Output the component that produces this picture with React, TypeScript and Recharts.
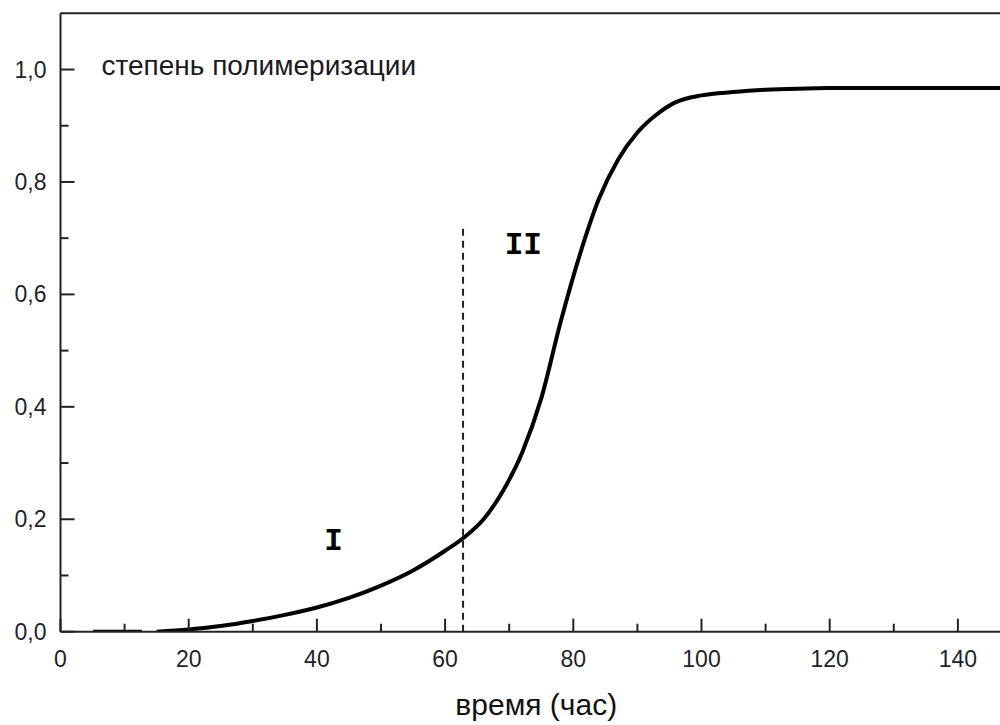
import { LineChart, Line, XAxis, YAxis, ReferenceLine, ReferenceDot } from 'recharts';

// время (час)
const hours = [15, 20, 25, 30, 35, 40, 45, 50, 55, 60, 63, 66, 69, 72, 75, 78, 81, 84, 87, 90, 93, 96, 100, 105, 110, 115, 120, 150];
// степень полимеризации
const degree = [0, 0.004, 0.01, 0.019, 0.03, 0.043, 0.06, 0.082, 0.109, 0.144, 0.168, 0.2, 0.25, 0.318, 0.415, 0.55, 0.67, 0.77, 0.84, 0.888, 0.92, 0.942, 0.954, 0.96, 0.964, 0.966, 0.967, 0.967];

// short flat piece before the curve
const startHours = [5.1, 12.7];
const startDegree = [0, 0];

const xTicks = [0, 10, 20, 30, 40, 50, 60, 70, 80, 90, 100, 110, 120, 130, 140];
const xLabelled = [0, 20, 40, 60, 80, 100, 120, 140];
const yTicks = [0, 0.1, 0.2, 0.3, 0.4, 0.5, 0.6, 0.7, 0.8, 0.9, 1.0];
const yLabelled = [0, 0.2, 0.4, 0.6, 0.8, 1.0];

const boundaryHour = 62.8;
const boundaryTop = 0.721;

const curve = hours.map((t, i) => ({ t, v: degree[i] }));
const startPiece = startHours.map((t, i) => ({ t, v: startDegree[i] }));

const axisColor = '#222';
const textColor = '#1f1f2a';
const font = '"Liberation Sans", Arial, sans-serif';

const XTick = (props: any) => {
  const { x, y, payload } = props;
  const major = xLabelled.includes(payload.value);
  return (
    <g>
      <line x1={x} y1={y} x2={x} y2={y - (major ? 13 : 8)} stroke={axisColor} strokeWidth={2} />
      {major && (
        <text x={x} y={y + 27} textAnchor="middle" dominantBaseline="central" fontSize={23} fontFamily={font} fill={textColor}>
          {payload.value}
        </text>
      )}
    </g>
  );
};

const YTick = (props: any) => {
  const { x, y, payload } = props;
  const major = yLabelled.some((v) => Math.abs(v - payload.value) < 1e-6);
  return (
    <g>
      <line x1={x} y1={y} x2={x + (major ? 14 : 8)} y2={y} stroke={axisColor} strokeWidth={2} />
      {major && (
        <text x={x - 14} y={y} textAnchor="end" dominantBaseline="central" fontSize={23} fontFamily={font} fill={textColor}>
          {payload.value.toFixed(1).replace('.', ',')}
        </text>
      )}
    </g>
  );
};

export default function App() {
  return (
    <div style={{ position: 'absolute', left: 0, top: 0, width: 1000, height: 725, overflow: 'hidden', background: '#fff' }}>
      <LineChart width={1022} height={725} margin={{ top: 13.3, right: 0, left: 0, bottom: 0 }}>
        <XAxis
          type="number"
          dataKey="t"
          domain={[0, 150]}
          ticks={xTicks}
          interval={0}
          tickSize={0}
          tickMargin={0}
          tickLine={false}
          tick={<XTick />}
          stroke={axisColor}
          strokeWidth={2}
          height={93.3}
          allowDataOverflow
          label={{
            value: 'время (час)',
            position: 'insideBottom',
            offset: 10,
            dx: -5,
            fontSize: 30,
            fontFamily: font,
            fill: '#111',
          }}
        />
        <YAxis
          type="number"
          domain={[0, 1.1]}
          ticks={yTicks}
          interval={0}
          tickSize={0}
          tickMargin={0}
          tickLine={false}
          tick={<YTick />}
          stroke={axisColor}
          strokeWidth={2}
          width={60.5}
          allowDataOverflow
        />
        <ReferenceLine y={1.1} stroke={axisColor} strokeWidth={2} />
        <ReferenceLine
          segment={[
            { x: boundaryHour, y: 0 },
            { x: boundaryHour, y: boundaryTop },
          ]}
          stroke={axisColor}
          strokeWidth={2}
          strokeDasharray="7 5"
        />
        <Line
          data={startPiece}
          dataKey="v"
          type="linear"
          stroke="#000"
          strokeWidth={4}
          dot={false}
          activeDot={false}
          isAnimationActive={false}
        />
        <Line
          data={curve}
          dataKey="v"
          type="monotone"
          stroke="#000"
          strokeWidth={4}
          dot={false}
          activeDot={false}
          isAnimationActive={false}
        />
        <ReferenceDot
          x={6.4}
          y={1.008}
          r={0}
          fill="none"
          stroke="none"
          label={{ value: 'степень полимеризации', position: 'right', offset: 0, fontSize: 28, fontFamily: font, fill: '#1a1a24' }}
        />
        <ReferenceDot
          x={42.6}
          y={0.165}
          r={0}
          fill="none"
          stroke="none"
          label={{ value: 'I', position: 'center', fontSize: 31, fontWeight: 'bold', fontFamily: '"Liberation Mono", monospace', fill: '#000' }}
        />
        <ReferenceDot
          x={72.2}
          y={0.691}
          r={0}
          fill="none"
          stroke="none"
          label={{ value: 'II', position: 'center', fontSize: 31, fontWeight: 'bold', fontFamily: '"Liberation Mono", monospace', fill: '#000' }}
        />
      </LineChart>
    </div>
  );
}
